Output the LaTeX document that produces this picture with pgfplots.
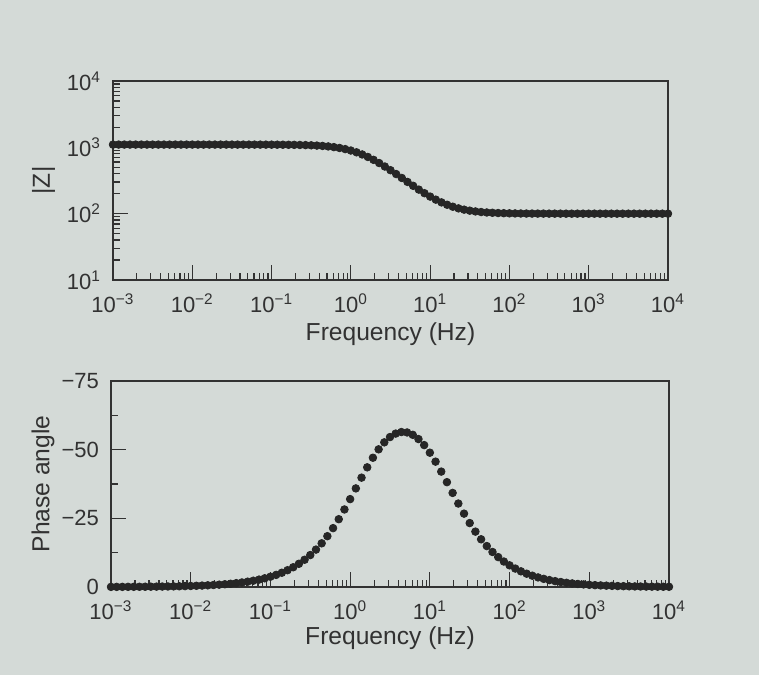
\documentclass[border=0pt]{standalone}
\usepackage{pgfplots}
\usepackage{pgfplotstable}
\pgfplotsset{compat=1.18}
\usepackage{fontspec}
\setmainfont{Liberation Sans}
\definecolor{paper}{RGB}{212,218,215}
\definecolor{ink}{RGB}{50,50,50}
\definecolor{dotc}{RGB}{38,38,38}

\pgfplotstableread{
f Z ph
0.001 1100 -0.037
0.0011788 1100 -0.044
0.0013895 1100 -0.052
0.0016379 1100 -0.061
0.0019307 1100 -0.072
0.0022758 1100 -0.085
0.0026827 1100 -0.101
0.0031623 1100 -0.119
0.0037276 1100 -0.140
0.004394 1100 -0.165
0.0051795 1100 -0.194
0.0061054 1100 -0.229
0.0071968 1100 -0.270
0.0084834 1100 -0.318
0.01 1100 -0.375
0.011788 1100 -0.442
0.013895 1099.9 -0.521
0.016379 1099.9 -0.614
0.019307 1099.9 -0.724
0.022758 1099.8 -0.853
0.026827 1099.8 -1.006
0.031623 1099.7 -1.185
0.037276 1099.6 -1.397
0.04394 1099.5 -1.647
0.051795 1099.2 -1.941
0.061054 1098.9 -2.287
0.071968 1098.5 -2.695
0.084834 1098.0 -3.176
0.1 1097.2 -3.742
0.11788 1096.1 -4.407
0.13895 1094.5 -5.190
0.16379 1092.5 -6.109
0.19307 1089.6 -7.187
0.22758 1085.7 -8.449
0.26827 1080.2 -9.922
0.31623 1072.8 -11.636
0.37276 1062.7 -13.620
0.4394 1049.2 -15.902
0.51795 1031.3 -18.503
0.61054 1007.9 -21.433
0.71968 977.8 -24.686
0.84834 940.3 -28.229
1.0 894.7 -31.999
1.1788 841.3 -35.899
1.3895 781.0 -39.806
1.6379 715.7 -43.574
1.9307 647.7 -47.059
2.2758 579.5 -50.125
2.6827 513.6 -52.663
3.1623 451.9 -54.590
3.7276 395.5 -55.851
4.394 345.1 -56.413
5.1795 300.9 -56.263
6.1054 262.9 -55.405
7.1968 230.5 -53.859
8.4834 203.4 -51.666
10 180.9 -48.894
11.788 162.6 -45.637
13.895 147.9 -42.016
16.379 136.3 -38.171
19.307 127.2 -34.251
22.758 120.2 -30.391
26.827 114.9 -26.707
31.623 111.0 -23.280
37.276 108.0 -20.160
43.94 105.8 -17.369
51.795 104.2 -14.905
61.054 103.1 -12.751
71.968 102.2 -10.884
84.834 101.6 -9.275
100 101.2 -7.894
117.88 100.8 -6.713
138.95 100.6 -5.704
163.79 100.4 -4.845
193.07 100.3 -4.114
227.58 100.2 -3.492
268.27 100.2 -2.964
316.23 100.1 -2.515
372.76 100.1 -2.134
439.4 100.1 -1.811
517.95 100.0 -1.537
610.54 100.0 -1.304
719.68 100.0 -1.106
848.34 100.0 -0.938
1000 100.0 -0.796
1178.8 100 -0.675
1389.5 100 -0.573
1637.9 100 -0.486
1930.7 100 -0.412
2275.8 100 -0.350
2682.7 100 -0.297
3162.3 100 -0.252
3727.6 100 -0.214
4394.0 100 -0.181
5179.5 100 -0.154
6105.4 100 -0.130
7196.8 100 -0.111
8483.4 100 -0.094
10000 100 -0.080
}\bodedata

\pgfplotsset{
  every axis/.append style={
    scale only axis,
    clip=false,
    axis line style={ink, line width=0.6pt},
    every tick/.style={ink, line width=0.6pt},
    tick align=inside,
    xtick pos=bottom,
    ytick pos=left,
    major tick length=7.5bp,
    minor tick length=3.5bp,
    tick label style={font=\fontsize{11bp}{13bp}\selectfont, text=ink},
    xticklabel style={yshift=-3.5bp},
    yticklabel style={xshift=-2.5bp},
    label style={font=\fontsize{12.3bp}{14bp}\selectfont, text=ink},
  },
}

\begin{document}
\begin{tikzpicture}
\fill[paper] (0,0) rectangle (379.5bp,337.5bp);
\path[use as bounding box] (0,0) rectangle (379.5bp,337.5bp);

\begin{axis}[
  anchor=south west,
  at={(56.5bp,197.5bp)},
  width=277.5bp, height=99.5bp,
  xmode=log, ymode=log,
  xmin=1e-3, xmax=1e4,
  ymin=10, ymax=1e4,
  xtick={1e-3,1e-2,1e-1,1,10,100,1000,10000},
  xticklabels={10\textsuperscript{−3},10\textsuperscript{−2},10\textsuperscript{−1},10\textsuperscript{0},10\textsuperscript{1},10\textsuperscript{2},10\textsuperscript{3},10\textsuperscript{4}},
  minor xtick={2e-3,3e-3,4e-3,5e-3,6e-3,7e-3,8e-3,9e-3,2e-2,3e-2,4e-2,5e-2,6e-2,7e-2,8e-2,9e-2,0.2,0.3,0.4,0.5,0.6,0.7,0.8,0.9,2,3,4,5,6,7,8,9,20,30,40,50,60,70,80,90,200,300,400,500,600,700,800,900,2000,3000,4000,5000,6000,7000,8000,9000},
  ytick={10,100,1000,10000},
  yticklabels={10\textsuperscript{1},10\textsuperscript{2},10\textsuperscript{3},10\textsuperscript{4}},
  minor ytick={20,30,40,50,60,70,80,90,200,300,400,500,600,700,800,900,2000,3000,4000,5000,6000,7000,8000,9000},
  xlabel={Frequency (Hz)},
  ylabel={|Z|},
  ylabel style={at={(axis description cs:-0.125,0.5)}, anchor=center},
  xlabel style={at={(axis description cs:0.5,-0.27)}, anchor=center},
]
\addplot[only marks, mark=*, mark size=1.9bp, color=dotc] table[x=f, y=Z] {\bodedata};
\end{axis}

\begin{axis}[
  anchor=south west,
  at={(55.5bp,44bp)},
  width=279bp, height=103bp,
  xmode=log,
  xmin=1e-3, xmax=1e4,
  xtick={1e-3,1e-2,1e-1,1,10,100,1000,10000},
  xticklabels={10\textsuperscript{−3},10\textsuperscript{−2},10\textsuperscript{−1},10\textsuperscript{0},10\textsuperscript{1},10\textsuperscript{2},10\textsuperscript{3},10\textsuperscript{4}},
  minor xtick={2e-3,3e-3,4e-3,5e-3,6e-3,7e-3,8e-3,9e-3,2e-2,3e-2,4e-2,5e-2,6e-2,7e-2,8e-2,9e-2,0.2,0.3,0.4,0.5,0.6,0.7,0.8,0.9,2,3,4,5,6,7,8,9,20,30,40,50,60,70,80,90,200,300,400,500,600,700,800,900,2000,3000,4000,5000,6000,7000,8000,9000},
  y dir=reverse,
  ymin=-75, ymax=0,
  ytick={-75,-50,-25,0},
  yticklabels={−75,−50,−25,0},
  minor ytick={-62.5,-37.5,-12.5},
  xlabel={Frequency (Hz)},
  ylabel={Phase angle},
  ylabel style={at={(axis description cs:-0.122,0.5)}, anchor=center},
  xlabel style={at={(axis description cs:0.5,-0.25)}, anchor=center},
]
\addplot[only marks, mark=*, mark size=1.9bp, color=dotc] table[x=f, y=ph] {\bodedata};
\end{axis}
\end{tikzpicture}
\end{document}
